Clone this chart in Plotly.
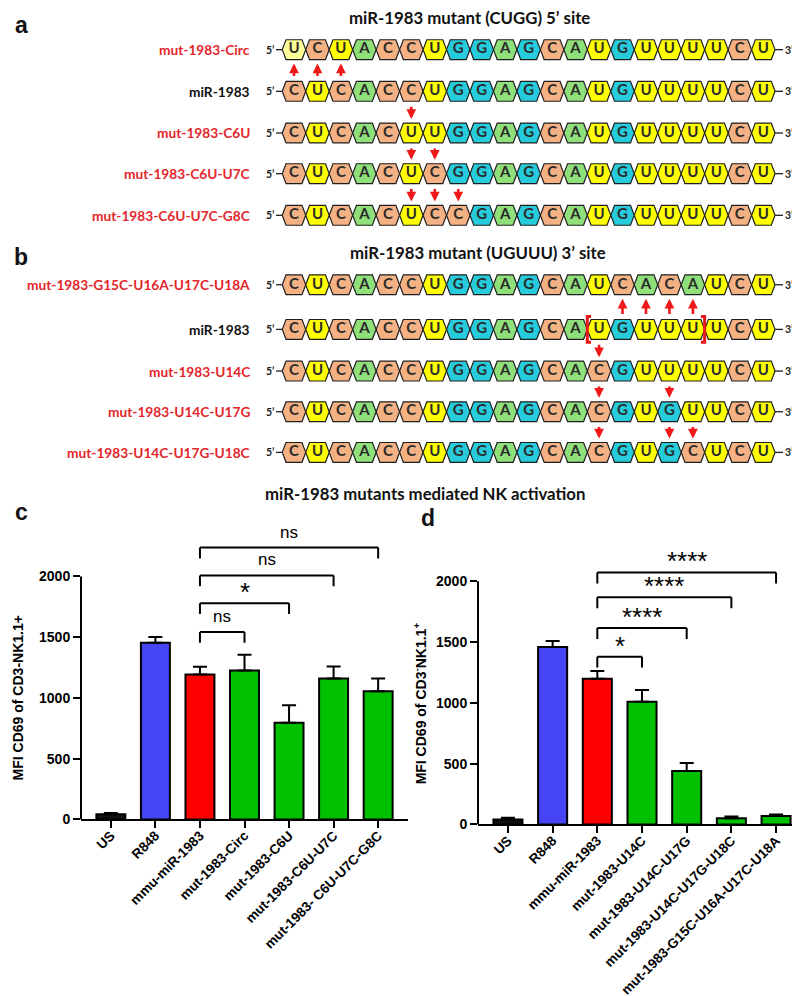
import plotly.graph_objects as go

# ------------------------------------------------------------------ data
A_TITLE = "miR-1983 mutant (CUGG) 5’ site"
A_LABELS = ["mut-1983-Circ", "miR-1983", "mut-1983-C6U", "mut-1983-C6U-U7C", "mut-1983-C6U-U7C-G8C"]
A_SEQS = ["UCUACCUGGAGCAUGUUUUCU",
          "CUCACCUGGAGCAUGUUUUCU",
          "CUCACUUGGAGCAUGUUUUCU",
          "CUCACUCGGAGCAUGUUUUCU",
          "CUCACUCCGAGCAUGUUUUCU"]
A_ARROW_POS = [[1, 2, 3], [6], [6, 7], [6, 7, 8]]
A_ARROW_DIR = ["up", "down", "down", "down"]

B_TITLE = "miR-1983 mutant (UGUUU) 3’ site"
B_LABELS = ["mut-1983-G15C-U16A-U17C-U18A", "miR-1983", "mut-1983-U14C", "mut-1983-U14C-U17G",
            "mut-1983-U14C-U17G-U18C"]
B_SEQS = ["CUCACCUGGAGCAUCACAUCU",
          "CUCACCUGGAGCAUGUUUUCU",
          "CUCACCUGGAGCACGUUUUCU",
          "CUCACCUGGAGCACGUGUUCU",
          "CUCACCUGGAGCACGUGCUCU"]
B_ARROW_POS = [[15, 16, 17, 18], [14], [14, 17], [14, 17, 18]]
B_ARROW_DIR = ["up", "down", "down", "down"]
B_SITE = (14, 18)          # bracketed UGUUU site on the miR-1983 row
PALE_CELLS = [("a", 0, 1)]  # (panel, row, position) drawn in pale yellow

C_CATS = ["US", "R848", "mmu-miR-1983", "mut-1983-Circ", "mut-1983-C6U", "mut-1983-C6U-U7C",
          "mut-1983- C6U-U7C-G8C"]
C_MEANS = [42, 1453, 1192, 1226, 796, 1160, 1055]
C_ERRS = [10, 48, 65, 130, 143, 98, 105]
C_COMP = [("mmu-miR-1983", "mut-1983-Circ", "ns"),
          ("mmu-miR-1983", "mut-1983-C6U", "*"),
          ("mmu-miR-1983", "mut-1983-C6U-U7C", "ns"),
          ("mmu-miR-1983", "mut-1983- C6U-U7C-G8C", "ns")]

D_CATS = ["US", "R848", "mmu-miR-1983", "mut-1983-U14C", "mut-1983-U14C-U17G",
          "mut-1983-U14C-U17G-U18C", "mut-1983-G15C-U16A-U17C-U18A"]
D_MEANS = [40, 1460, 1198, 1010, 440, 50, 70]
D_ERRS = [14, 50, 65, 95, 65, 14, 12]
D_COMP = [("mmu-miR-1983", "mut-1983-U14C", "*"),
          ("mmu-miR-1983", "mut-1983-U14C-U17G", "****"),
          ("mmu-miR-1983", "mut-1983-U14C-U17G-U18C", "****"),
          ("mmu-miR-1983", "mut-1983-G15C-U16A-U17C-U18A", "****")]

# ------------------------------------------------------------------ styles / layout
W, H = 800, 996
NT_COL = {"C": "#F4B183", "U": "#FFFF00", "G": "#27CCDC", "A": "#8FE07A"}
PALE_U = "#FFFF99"
RED = "#E3262B"
BAR_COLS_C = ["#111111", "#4545F5", "#FF0000"] + ["#00C000"] * 4
BAR_COLS_D = ["#111111", "#4545F5", "#FF0000"] + ["#00C000"] * 4
ROW_Y = {"a": [42, 84, 126, 167, 209], "b": [279, 324, 366, 407, 448]}
X0_PX, DX_PX = 286, 23.465          # first nucleotide centre / spacing (px)
HEX_HALF_W, HEX_INNER, HEX_HALF_H = 0.5, 0.34, 10
CAL = "Lato"
ARIAL = "Liberation Sans, Arial"

def px2x(px):
    return 1 + (px - X0_PX) / DX_PX

fig = go.Figure()

panels = {"a": (A_SEQS, A_LABELS, A_ARROW_POS, A_ARROW_DIR),
          "b": (B_SEQS, B_LABELS, B_ARROW_POS, B_ARROW_DIR)}

groups = {}
tx, ty, tt = [], [], []
annotations = []
shapes = []
for pk, (seqs, labels, apos, adir) in panels.items():
    rows = ROW_Y[pk]
    for r, seq in enumerate(seqs):
        y = rows[r]
        for i, nt in enumerate(seq):
            x = i + 1
            col = NT_COL[nt]
            if (pk, r, x) in PALE_CELLS:
                col = PALE_U
            g = groups.setdefault(col, ([], []))
            g[0].extend([x - HEX_HALF_W, x - HEX_INNER, x + HEX_INNER, x + HEX_HALF_W,
                         x + HEX_INNER, x - HEX_INNER, x - HEX_HALF_W, None])
            g[1].extend([y, y - HEX_HALF_H, y - HEX_HALF_H, y, y + HEX_HALF_H, y + HEX_HALF_H, y, None])
            tx.append(x); ty.append(y); tt.append(nt)
        n = len(seq)
        shapes.append(dict(type="line", xref="x", yref="y", x0=px2x(268), x1=1 - HEX_HALF_W, y0=y, y1=y,
                           line=dict(color="#222", width=1.3)))
        shapes.append(dict(type="line", xref="x", yref="y", x0=n + HEX_HALF_W, x1=px2x(775), y0=y, y1=y,
                           line=dict(color="#222", width=1.3)))
        annotations.append(dict(xref="x", yref="y", x=px2x(268), y=y, text="5’", showarrow=False,
                                xanchor="right", yanchor="middle",
                                font=dict(family=CAL, size=10.5, color="#222", weight="bold")))
        annotations.append(dict(xref="x", yref="y", x=px2x(775), y=y, text="3’", showarrow=False,
                                xanchor="left", yanchor="middle",
                                font=dict(family=CAL, size=10.5, color="#222", weight="bold")))
        annotations.append(dict(xref="x", yref="y", x=px2x(244), y=y, text=labels[r], showarrow=False,
                                xanchor="right", yanchor="middle",
                                font=dict(family=CAL, size=13.7, weight="bold",
                                          color="#111" if labels[r] == "miR-1983" else RED)))
    for k, poss in enumerate(apos):
        yu, yl = rows[k] + 14, rows[k + 1] - 14
        for p in poss:
            if adir[k] == "up":
                head, tail = yu, yl
            else:
                head, tail = yl, yu
            annotations.append(dict(xref="x", yref="y", axref="x", ayref="y", x=p, y=head, ax=p, ay=tail,
                                    text="", showarrow=True, arrowhead=2, arrowsize=0.75, arrowwidth=2.6,
                                    arrowcolor="#F01818"))

for col, (gx, gy) in groups.items():
    fig.add_trace(go.Scatter(x=gx, y=gy, mode="lines", fill="toself", fillcolor=col,
                             line=dict(color="#1E1E1E", width=1.2), hoverinfo="skip",
                             showlegend=False, xaxis="x", yaxis="y"))
fig.add_trace(go.Scatter(x=tx, y=ty, mode="text", text=tt, textposition="middle center",
                         textfont=dict(family=CAL, size=15, color="#2A2A2A", weight="bold"),
                         hoverinfo="skip", showlegend=False, xaxis="x", yaxis="y"))

yb = ROW_Y["b"][1]
for xpos, d in [(B_SITE[0] - 0.5, 1), (B_SITE[1] + 0.5, -1)]:
    shapes.append(dict(type="path", xref="x", yref="y",
                       path=f"M {xpos + d * 0.16},{yb - 13} L {xpos},{yb - 13} L {xpos},{yb + 13} L {xpos + d * 0.16},{yb + 13}",
                       line=dict(color="#E81818", width=3)))

def title(x, y, text, size=16.8):
    annotations.append(dict(xref="paper", yref="paper", x=x / W, y=1 - y / H, text=text, showarrow=False,
                            xanchor="center", yanchor="middle",
                            font=dict(family=CAL, size=size, color="#111", weight="bold")))

title(461, 10, A_TITLE)
title(470, 246, B_TITLE)
title(417, 489, "miR-1983 mutants mediated NK activation")
for letter, lx, ly in [("a", 13, 17), ("b", 13, 251), ("c", 13, 508), ("d", 420, 514)]:
    annotations.append(dict(xref="paper", yref="paper", x=lx / W, y=1 - ly / H, text=letter, showarrow=False,
                            xanchor="center", yanchor="middle",
                            font=dict(family=ARIAL, size=23, color="#111", weight="bold")))

# ------------------------------------------------------------------ bar charts
YMAX = 2400
charts = [
    ("x2", "y2", C_CATS, C_MEANS, C_ERRS, C_COMP, BAR_COLS_C, (73, 400), 818,
     [1543, 1780, 2008, 2237], "MFI CD69 of CD3-NK1.1+", 10),
    ("x3", "y3", D_CATS, D_MEANS, D_ERRS, D_COMP, BAR_COLS_D, (470, 798), 823,
     [1380, 1616, 1869, 2073], "MFI CD69 of CD3<sup>-</sup>NK1.1<sup>+</sup>", 412),
]
PX_PER_UNIT = 245 / 2000
axis_layout = {}
for xa, ya, cats, means, errs, comps, cols, (xl, xr), y0px, levels, ytitle, ytx in charts:
    fig.add_trace(go.Bar(x=cats, y=means, xaxis=xa, yaxis=ya, width=0.65,
                         marker=dict(color=cols, line=dict(color="black", width=2)),
                         error_y=dict(type="data", array=errs, arrayminus=[0] * len(errs), symmetric=False,
                                      color="black", thickness=2, width=7),
                         showlegend=False))
    top_px = y0px - YMAX * PX_PER_UNIT
    xkey = "xaxis" + xa[1:]
    ykey = "yaxis" + ya[1:]
    axis_layout[xkey] = dict(domain=[xl / W, xr / W], anchor=ya, type="category", range=[-0.67, len(cats) - 0.33],
                             showline=True, linecolor="black", linewidth=2, ticks="outside", ticklen=7,
                             tickwidth=2, tickcolor="black", tickangle=-45, showgrid=False, zeroline=False,
                             ticklabelstandoff=-6,
                             tickfont=dict(family=ARIAL, size=13.6, color="black", weight="bold"))
    axis_layout[ykey] = dict(domain=[1 - y0px / H, 1 - top_px / H], anchor=xa, range=[0, YMAX],
                             showline=False, ticks="outside", ticklen=7, tickwidth=2, tickcolor="black",
                             tickvals=[0, 500, 1000, 1500, 2000], showgrid=False, zeroline=False,
                             tickfont=dict(family=ARIAL, size=14, color="black", weight="bold"))
    shapes.append(dict(type="line", xref=xa + " domain", yref=ya, x0=0, x1=0, y0=0, y1=2000,
                       line=dict(color="black", width=2)))
    annotations.append(dict(xref="paper", yref="paper", x=ytx / W, y=1 - (y0px - 122) / H, text=ytitle,
                            textangle=-90, showarrow=False, xanchor="center", yanchor="middle",
                            font=dict(family=ARIAL, size=14, color="black", weight="bold")))
    drop = 11 / PX_PER_UNIT
    for (c1, c2, lab), lev in zip(comps, levels):
        i1, i2 = cats.index(c1), cats.index(c2)
        for (xa0, xa1, ya0, ya1) in [(i1, i1, lev - drop, lev), (i1, i2, lev, lev), (i2, i2, lev, lev - drop)]:
            shapes.append(dict(type="line", xref=xa, yref=ya, x0=xa0, x1=xa1, y0=ya0, y1=ya1,
                               line=dict(color="black", width=2)))
        if lab == "ns":
            annotations.append(dict(xref=xa, yref=ya, x=(i1 + i2) / 2, y=lev + 4 / PX_PER_UNIT, text=lab,
                                    showarrow=False, xanchor="center", yanchor="bottom",
                                    font=dict(family=ARIAL, size=17, color="black")))
        else:
            annotations.append(dict(xref=xa, yref=ya, x=(i1 + i2) / 2, y=lev - 6 / PX_PER_UNIT, text=lab,
                                    showarrow=False, xanchor="center", yanchor="bottom",
                                    font=dict(family=ARIAL, size=26, color="black")))

fig.update_layout(
    width=W, height=H, margin=dict(l=0, r=0, t=0, b=0),
    paper_bgcolor="white", plot_bgcolor="rgba(0,0,0,0)",
    xaxis=dict(domain=[0, 1], range=[px2x(0), px2x(W)], visible=False, anchor="y"),
    yaxis=dict(domain=[0, 1], range=[H, 0], visible=False, anchor="x"),
    shapes=shapes, annotations=annotations, showlegend=False,
    **axis_layout,
)
fig.write_html("out.html")
